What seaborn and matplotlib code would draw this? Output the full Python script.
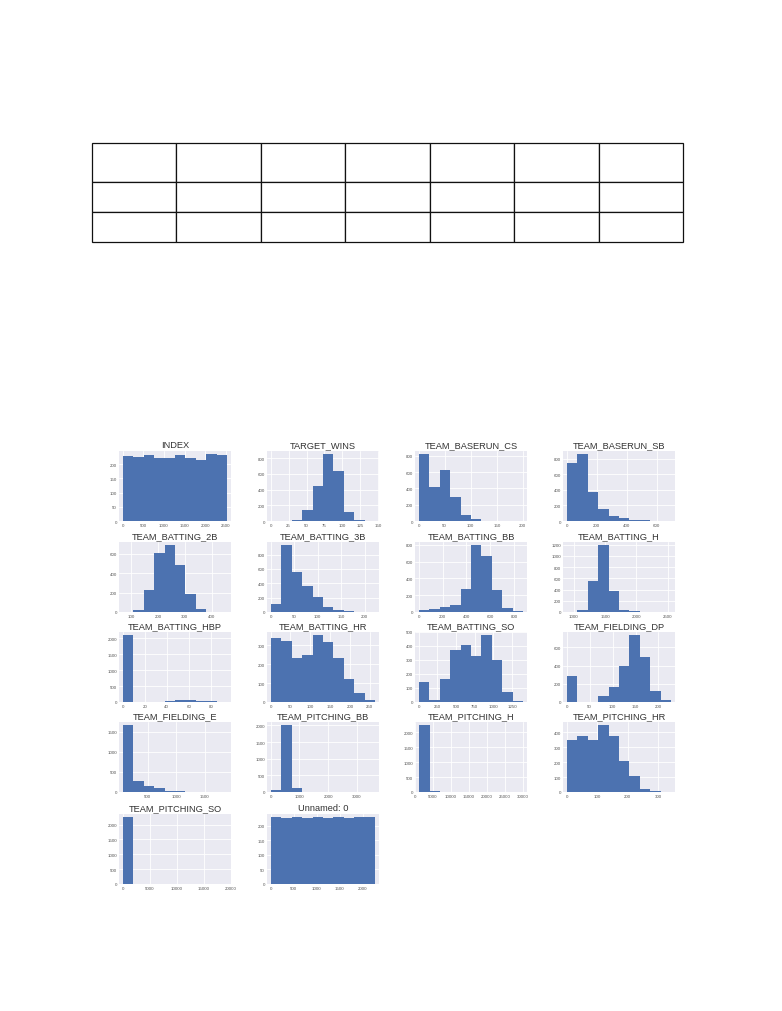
import matplotlib
matplotlib.use("Agg")
import matplotlib.pyplot as plt
import seaborn as sns
import numpy as np
import pandas as pd

sns.set_theme(style="darkgrid")
plt.rcParams["font.family"] = ["Liberation Sans", "DejaVu Sans"]

# ---------------------------------------------------------------
# Histogram data (10 bins per column)
# ---------------------------------------------------------------
titles = ["INDEX", "TARGET_WINS", "TEAM_BASERUN_CS", "TEAM_BASERUN_SB",
          "TEAM_BATTING_2B", "TEAM_BATTING_3B", "TEAM_BATTING_BB", "TEAM_BATTING_H",
          "TEAM_BATTING_HBP", "TEAM_BATTING_HR", "TEAM_BATTING_SO", "TEAM_FIELDING_DP",
          "TEAM_FIELDING_E", "TEAM_PITCHING_BB", "TEAM_PITCHING_H", "TEAM_PITCHING_HR",
          "TEAM_PITCHING_SO", "Unnamed: 0"]

value_min = [1, 0, 0, 0, 69, 0, 0, 891, 0, 0, 0, 0, 65, 0, 1137, 0, 0, 0]
value_max = [2535, 146, 201, 697, 458, 223, 878, 2554, 95, 264, 1399, 228, 1898, 3645, 30132, 343, 19278, 2275]

counts = [
    [229, 226, 232, 222, 222, 230, 222, 214, 234, 233],
    [1, 5, 17, 137, 449, 847, 641, 120, 13, 2],
    [820, 415, 630, 290, 75, 20, 3, 3, 0, 5],
    [745, 857, 377, 148, 65, 35, 13, 8, 2, 2],
    [3, 24, 228, 610, 686, 479, 190, 35, 3, 2],
    [107, 930, 563, 358, 214, 70, 23, 9, 4, 2],
    [20, 36, 56, 88, 275, 793, 661, 263, 48, 12],
    [3, 40, 561, 1188, 382, 42, 12, 4, 3, 2],
    [2085, 0, 0, 8, 26, 48, 52, 35, 16, 6],
    [338, 320, 232, 246, 352, 315, 232, 120, 50, 11],
    [144, 12, 161, 368, 409, 327, 476, 300, 75, 5],
    [286, 0, 0, 65, 160, 393, 731, 498, 116, 22],
    [1660, 273, 140, 90, 33, 20, 12, 3, 2, 2],
    [75, 2005, 125, 5, 2, 1, 0, 0, 0, 1],
    [2230, 40, 3, 1, 0, 0, 0, 0, 0, 1],
    [350, 375, 344, 445, 371, 209, 108, 20, 5, 1],
    [2245, 8, 2, 1, 0, 0, 0, 0, 0, 1],
    [228, 227, 228, 227, 228, 227, 228, 227, 228, 228],
]

xticks = [
    [0, 500, 1000, 1500, 2000, 2500], [0, 25, 50, 75, 100, 125, 150], [0, 50, 100, 150, 200],
    [0, 200, 400, 600], [100, 200, 300, 400], [0, 50, 100, 150, 200], [0, 200, 400, 600, 800],
    [1000, 1500, 2000, 2500], [0, 20, 40, 60, 80], [0, 50, 100, 150, 200, 250],
    [0, 250, 500, 750, 1000, 1250], [0, 50, 100, 150, 200], [500, 1000, 1500],
    [0, 1000, 2000, 3000], [0, 5000, 10000, 15000, 20000, 25000, 30000], [0, 100, 200, 300],
    [0, 5000, 10000, 15000, 20000], [0, 500, 1000, 1500, 2000],
]
yticks = [
    [0, 50, 100, 150, 200], [0, 200, 400, 600, 800], [0, 200, 400, 600, 800],
    [0, 200, 400, 600, 800], [0, 200, 400, 600], [0, 200, 400, 600, 800],
    [0, 200, 400, 600, 800], [0, 200, 400, 600, 800, 1000, 1200], [0, 500, 1000, 1500, 2000],
    [0, 100, 200, 300], [0, 100, 200, 300, 400, 500], [0, 200, 400, 600],
    [0, 500, 1000, 1500], [0, 500, 1000, 1500, 2000], [0, 500, 1000, 1500, 2000],
    [0, 100, 200, 300, 400], [0, 500, 1000, 1500, 2000], [0, 50, 100, 150, 200],
]

W, H = 782, 1012
fig = plt.figure(figsize=(W / 100, H / 100), dpi=100)
fig.patch.set_facecolor("white")

# ---------------------------------------------------------------
# Empty table at top of the page
# ---------------------------------------------------------------
tx0, tx1, ty0, ty1 = 92, 683, 144, 243
tab_ax = fig.add_axes([tx0 / W, 1 - ty1 / H, (tx1 - tx0) / W, (ty1 - ty0) / H])
tab_ax.axis("off")
tbl = tab_ax.table(cellText=[[""] * 7 for _ in range(3)], bbox=[0, 0, 1, 1])
row_h = [39, 30, 30]
for (r, c), cell in tbl.get_celld().items():
    cell.set_height(row_h[r] / sum(row_h))
    cell.set_edgecolor("#111111")
    cell.set_linewidth(0.9)
    cell.set_facecolor("white")

# ---------------------------------------------------------------
# Histogram grid
# ---------------------------------------------------------------
col_left = [119, 267, 415, 563]
row_top = [452, 543, 633, 723, 815]
ax_w, ax_h = 112, 70

for i, title in enumerate(titles):
    r, c = divmod(i, 4)
    ax = fig.add_axes([col_left[c] / W, 1 - (row_top[r] + ax_h) / H, ax_w / W, ax_h / H])
    edges = np.linspace(value_min[i], value_max[i], 11)
    df = pd.DataFrame({"x": (edges[:-1] + edges[1:]) / 2, "n": counts[i]})
    sns.histplot(data=df, x="x", weights="n", bins=edges.tolist(), ax=ax,
                 color="#4C72B0", alpha=1, linewidth=0)
    ax.set_facecolor("#EAEAF2")
    ax.grid(color="white", linewidth=0.6)
    ax.set_axisbelow(True)
    ax.margins(x=0.035)
    ax.set_ylim(0, max(counts[i]) * 1.05)
    ax.set_xticks(xticks[i])
    ax.set_yticks(yticks[i])
    ax.set_xlabel("")
    ax.set_ylabel("")
    ax.tick_params(labelsize=3.2, labelcolor="#555555", pad=1.5, length=0)
    for s in ax.spines.values():
        s.set_visible(False)
    ax.set_title(title, fontsize=6.7, color="#333333", pad=3)

fig.savefig("out.png", dpi=100, facecolor="white")
